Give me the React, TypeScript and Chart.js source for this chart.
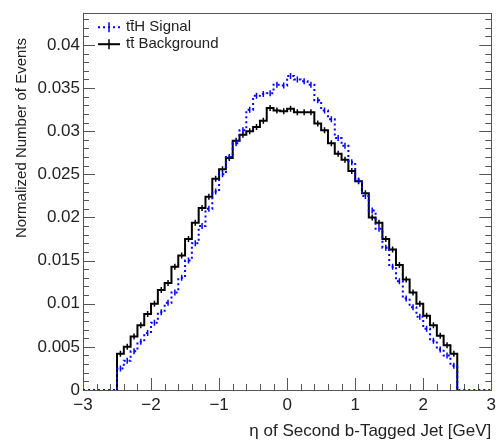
import React, { useEffect, useRef } from 'react';
import { Chart, registerables } from 'chart.js';

Chart.register(...registerables);

// ---- data ----
const BIN_LOW = -2.5;
const BIN_WIDTH = 0.1;
const SIGNAL = [
  0.0025, 0.0034, 0.0045, 0.0056, 0.0066, 0.0078, 0.0090, 0.0101, 0.0113, 0.0130,
  0.0150, 0.0170, 0.0190, 0.0210, 0.0230, 0.0250, 0.0270, 0.0286, 0.0301, 0.0325,
  0.0341, 0.0343, 0.0344, 0.0354, 0.0353, 0.0364, 0.0360, 0.0358, 0.0354, 0.0336,
  0.0324, 0.0314, 0.0292, 0.0283, 0.0264, 0.0243, 0.0225, 0.0208, 0.0187, 0.0165,
  0.0143, 0.0126, 0.0106, 0.0096, 0.0085, 0.0071, 0.0057, 0.0047, 0.0040, 0.0028,
];
const BACKGROUND = [
  0.0042, 0.0050, 0.0062, 0.0075, 0.0088, 0.0100, 0.0116, 0.0124, 0.0143, 0.0156,
  0.0175, 0.0194, 0.0211, 0.0224, 0.0245, 0.0256, 0.0269, 0.0289, 0.0296, 0.0300,
  0.0305, 0.0312, 0.0327, 0.0324, 0.0323, 0.0326, 0.0322, 0.0322, 0.0322, 0.0309,
  0.0301, 0.0286, 0.0274, 0.0267, 0.0254, 0.0242, 0.0228, 0.0200, 0.0194, 0.0175,
  0.0163, 0.0145, 0.0128, 0.0113, 0.0100, 0.0086, 0.0075, 0.0063, 0.0052, 0.0042,
];
const X_MIN = -3;
const X_MAX = 3;
const Y_MIN = 0;
const Y_MAX = 0.04368;
const X_MAJOR = 1;
const X_MINOR = 0.2;
const Y_MAJOR = 0.005;
const Y_MINOR = 0.001;
const LABEL_SIGNAL = 'tt\u0304H Signal';
const LABEL_BACKGROUND = 'tt\u0304 Background';
const X_TITLE = '\u03b7 of Second b-Tagged Jet [GeV]';
const Y_TITLE = 'Normalized Number of Events';

const FONT = "'Liberation Sans', Arial, Helvetica, sans-serif";
const SIGNAL_COLOR = '#0000ff';
const BACKGROUND_COLOR = '#000000';
const FRAME_COLOR = '#555555';
const TEXT_COLOR = '#222222';
const SIGNAL_DASH = [2, 3];

const edge = (i: number) => Math.round((BIN_LOW + i * BIN_WIDTH) * 1000) / 1000;
const center = (i: number) => Math.round((BIN_LOW + (i + 0.5) * BIN_WIDTH) * 1000) / 1000;

// points at left bin edges; with stepped 'before' each point's value is held until the next edge
function histPath(values: number[], padToAxis: boolean) {
  const pts: { x: number; y: number }[] = [];
  pts.push({ x: padToAxis ? X_MIN : edge(0), y: 0 });
  values.forEach((v, i) => pts.push({ x: edge(i), y: v }));
  pts.push({ x: edge(values.length), y: 0 });
  if (padToAxis) pts.push({ x: X_MAX, y: 0 });
  return pts;
}
const centers = (values: number[]) => values.map((v, i) => ({ x: center(i), y: v }));

const fmtX = (v: number) => (v < 0 ? '\u2212' + Math.abs(v) : String(v));
const fmtY = (v: number) => String(Number(v.toFixed(4)));

const framePlugin = {
  id: 'rootFrame',
  beforeDatasetsDraw(chart: any) {
    const { ctx, chartArea: a, scales } = chart;
    const xs = scales.x;
    const ys = scales.y;
    ctx.save();
    ctx.strokeStyle = FRAME_COLOR;
    ctx.lineWidth = 1;
    ctx.strokeRect(Math.round(a.left) + 0.5, Math.round(a.top) + 0.5, Math.round(a.right - a.left), Math.round(a.bottom - a.top));
    ctx.beginPath();
    const nx = Math.round((X_MAX - X_MIN) / X_MINOR);
    for (let i = 0; i <= nx; i++) {
      const v = Math.round((X_MIN + i * X_MINOR) * 1000) / 1000;
      const major = Math.abs(v / X_MAJOR - Math.round(v / X_MAJOR)) < 1e-6;
      const px = Math.round(xs.getPixelForValue(v)) + 0.5;
      const len = major ? 12 : 6;
      ctx.moveTo(px, a.bottom);
      ctx.lineTo(px, a.bottom - len);
    }
    const ny = Math.floor((Y_MAX - Y_MIN) / Y_MINOR + 1e-6);
    for (let i = 0; i <= ny; i++) {
      const v = Math.round((Y_MIN + i * Y_MINOR) * 1e6) / 1e6;
      const major = Math.abs(v / Y_MAJOR - Math.round(v / Y_MAJOR)) < 1e-6;
      const py = Math.round(ys.getPixelForValue(v)) + 0.5;
      const len = major ? 12 : 6;
      ctx.moveTo(a.left, py);
      ctx.lineTo(a.left + len, py);
      ctx.moveTo(a.right, py);
      ctx.lineTo(a.right - len, py);
    }
    ctx.stroke();
    ctx.restore();
  },
  afterDraw(chart: any) {
    const { ctx, chartArea: a } = chart;
    ctx.save();
    ctx.fillStyle = TEXT_COLOR;
    ctx.font = `15px ${FONT}`;
    ctx.translate(22, 38);
    ctx.rotate(-Math.PI / 2);
    ctx.textAlign = 'right';
    ctx.textBaseline = 'middle';
    ctx.fillText(Y_TITLE, 0, 0);
    ctx.restore();

    const entries = [
      { label: LABEL_SIGNAL, color: SIGNAL_COLOR, dash: SIGNAL_DASH, width: 2 },
      { label: LABEL_BACKGROUND, color: BACKGROUND_COLOR, dash: [], width: 2 },
    ];
    const x0 = a.left + 15;
    const x1 = a.left + 37;
    entries.forEach((e, i) => {
      const y = a.top + 14 + i * 17;
      ctx.save();
      ctx.strokeStyle = e.color;
      ctx.lineWidth = e.width;
      ctx.setLineDash(e.dash);
      ctx.beginPath();
      ctx.moveTo(x0, y);
      ctx.lineTo(x1, y);
      ctx.stroke();
      ctx.setLineDash([]);
      ctx.lineWidth = 1.5;
      ctx.beginPath();
      const cx = (x0 + x1) / 2;
      ctx.moveTo(cx, y - 5);
      ctx.lineTo(cx, y + 5);
      ctx.stroke();
      ctx.fillStyle = TEXT_COLOR;
      ctx.font = `15px ${FONT}`;
      ctx.textAlign = 'left';
      ctx.textBaseline = 'middle';
      ctx.fillText(e.label, x1 + 6, y);
      ctx.restore();
    });
  },
};

export default function App() {
  const ref = useRef<HTMLCanvasElement | null>(null);
  useEffect(() => {
    if (!ref.current) return;
    const markerRadius = 3;
    const chart = new Chart(ref.current, {
      type: 'line',
      data: {
        datasets: [
          {
            label: LABEL_SIGNAL + ' markers',
            data: centers(SIGNAL),
            showLine: false,
            pointStyle: 'line',
            rotation: 90,
            pointRadius: markerRadius,
            pointBorderWidth: 1.5,
            borderColor: SIGNAL_COLOR,
            backgroundColor: SIGNAL_COLOR,
          },
          {
            label: LABEL_SIGNAL,
            data: histPath(SIGNAL, true),
            stepped: 'before',
            borderColor: SIGNAL_COLOR,
            borderWidth: 2,
            borderDash: SIGNAL_DASH,
            pointRadius: 0,
            fill: false,
          },
          {
            label: LABEL_BACKGROUND + ' markers',
            data: centers(BACKGROUND),
            showLine: false,
            pointStyle: 'line',
            rotation: 90,
            pointRadius: markerRadius,
            pointBorderWidth: 1.5,
            borderColor: BACKGROUND_COLOR,
            backgroundColor: BACKGROUND_COLOR,
          },
          {
            label: LABEL_BACKGROUND,
            data: histPath(BACKGROUND, false),
            stepped: 'before',
            borderColor: BACKGROUND_COLOR,
            borderWidth: 2,
            pointRadius: 0,
            fill: false,
          },
        ],
      },
      options: {
        responsive: false,
        animation: false,
        devicePixelRatio: 1,
        layout: { padding: { left: 0, top: 9, right: 9, bottom: 0 } },
        plugins: {
          legend: { display: false },
          tooltip: { enabled: false },
        },
        scales: {
          x: {
            type: 'linear',
            min: X_MIN,
            max: X_MAX,
            grid: { display: false, drawTicks: false },
            border: { display: false },
            ticks: {
              stepSize: X_MAJOR,
              autoSkip: false,
              maxRotation: 0,
              padding: 5,
              color: TEXT_COLOR,
              font: { family: FONT, size: 17 },
              callback: (v: any) => fmtX(Number(v)),
            },
            title: {
              display: true,
              text: X_TITLE,
              align: 'end',
              color: TEXT_COLOR,
              font: { family: FONT, size: 17 },
              padding: { top: 0, bottom: 3 },
            },
            afterFit: (s: any) => { s.height = 55; },
          },
          y: {
            type: 'linear',
            min: Y_MIN,
            max: Y_MAX,
            grid: { display: false, drawTicks: false },
            border: { display: false },
            ticks: {
              stepSize: Y_MAJOR,
              includeBounds: false,
              padding: 3,
              color: TEXT_COLOR,
              font: { family: FONT, size: 17 },
              callback: (v: any) => fmtY(Number(v)),
            },
            afterFit: (s: any) => { s.width = 83; },
          },
        },
      },
      plugins: [framePlugin],
    } as any);
    return () => chart.destroy();
  }, []);
  return (
    <div style={{ position: 'fixed', left: 0, top: 0, width: 501, height: 445, background: '#fff' }}>
      <canvas ref={ref} width={501} height={445} style={{ display: 'block' }} />
    </div>
  );
}
